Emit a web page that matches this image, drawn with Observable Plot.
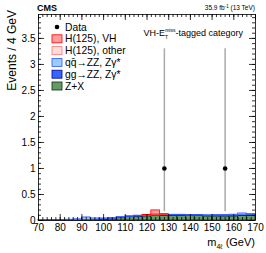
<!DOCTYPE html>
<html><head><meta charset="utf-8">
<script src="https://cdn.jsdelivr.net/npm/d3@7"></script>
<script src="https://cdn.jsdelivr.net/npm/@observablehq/plot@0.6"></script>
<style>body{margin:0;background:#fff;font-family:"Liberation Sans",Arial,sans-serif}</style>
</head><body><div id="chart"></div>
<script>
// bins of 4 GeV, lower edges
const binStart = [70,74,78,82,86,90,94,98,102,106,110,114,118,122,126,130,134,138,142,146,150,154,158,162,166];
const zx    = [0,0,0,0,0,0.005,0.01,0.015,0.025,0.045,0.065,0.075,0.08,0.085,0.09,0.09,0.09,0.085,0.085,0.08,0.08,0.08,0.08,0.085,0.085];
const ggzz  = [0.002,0.002,0.002,0.003,0.003,0.004,0.004,0.005,0.005,0.006,0.006,0.006,0.007,0.007,0.007,0.008,0.008,0.008,0.009,0.009,0.01,0.01,0.012,0.015,0.02];
const qqzz  = [0.005,0.006,0.008,0.012,0.02,0.05,0.025,0.02,0.018,0.015,0.012,0.012,0.012,0.012,0.012,0.012,0.012,0.012,0.013,0.013,0.014,0.015,0.02,0.035,0.02];
const hother= [0,0,0,0,0,0,0,0,0,0,0,0,0.002,0.01,0.003,0,0,0,0,0,0,0,0,0,0];
const hvh   = [0,0,0,0,0,0,0,0,0,0,0,0,0.008,0.08,0.01,0,0,0,0,0,0,0,0,0,0];
const seriesNames = ["Z+X","gg\u2192ZZ, Z\u03b3*","qq\u0304\u2192ZZ, Z\u03b3*","H(125), other","H(125), VH"];
const seriesValues = [zx, ggzz, qqzz, hother, hvh];
const seriesFill = ["#669966","#3366ff","#99ccff","#ffdcdc","#ff9c9c"];
const seriesStroke = ["#003300","#000099","#3355ff","#ff7777","#ff0000"];
// data points
const dataX = [128, 156];
const dataY = [1, 1];
const dataLo = [0.17, 0.17];
const dataHi = [3.30, 3.30];
const xTicks = [70,80,90,100,110,120,130,140,150,160,170];
const yTicks = [0,0.5,1,1.5,2,2.5,3,3.5];

const W = 266, H = 253, mL = 38, mR = 11, mT = 14, mB = 33;
const xDom = [70,170], yDom = [0,3.96];
const pxX = (W-mL-mR)/(xDom[1]-xDom[0]);
const pxY = (H-mT-mB)/(yDom[1]-yDom[0]);

// stacked rects
const rects = [];
binStart.forEach((b,i) => {
  let c = 0;
  seriesValues.forEach((vals,s) => {
    const v = vals[i];
    if (v > 0) rects.push({x1:b, x2:b+4, y1:c, y2:c+v, s});
    c += v;
  });
});
const pts = dataX.map((x,i)=>({x, y:dataY[i], lo:dataLo[i], hi:dataHi[i]}));

const xMinor = d3.range(70,170.01,2);
const yMinor = d3.range(0,3.96,0.1);
const lx = (p)=>p/pxX, ly=(p)=>p/pxY;

const marks = [];
seriesValues.forEach((_,s)=>{
  marks.push(Plot.rect(rects.filter(r=>r.s===s), {x1:"x1",x2:"x2",y1:"y1",y2:"y2",fill:seriesFill[s],stroke:seriesStroke[s],strokeWidth:0.8}));
});
marks.push(
  Plot.ruleX(pts, {x:"x", y1:"lo", y2:"hi", stroke:"#aaaaaa", strokeWidth:1.5}),
  Plot.dot(pts, {x:"x", y:"y", r:2.3, fill:"black"}),
  // inward ticks
  Plot.ruleX(xMinor, {y1:0, y2:ly(3), stroke:"black", strokeWidth:0.8}),
  Plot.ruleX(xTicks, {y1:0, y2:ly(6), stroke:"black", strokeWidth:0.8}),
  Plot.ruleX(xMinor, {y1:yDom[1], y2:yDom[1]-ly(3), stroke:"black", strokeWidth:0.8}),
  Plot.ruleX(xTicks, {y1:yDom[1], y2:yDom[1]-ly(6), stroke:"black", strokeWidth:0.8}),
  Plot.ruleY(yMinor, {x1:70, x2:70+lx(3), stroke:"black", strokeWidth:0.8}),
  Plot.ruleY(yTicks, {x1:70, x2:70+lx(6), stroke:"black", strokeWidth:0.8}),
  Plot.ruleY(yMinor, {x1:170, x2:170-lx(3), stroke:"black", strokeWidth:0.8}),
  Plot.ruleY(yTicks, {x1:170, x2:170-lx(6), stroke:"black", strokeWidth:0.8}),
  Plot.frame({stroke:"black", strokeWidth:0.8}),
  Plot.axisX({ticks:xTicks, tickSize:0, tickPadding:3, fontSize:10, label:null}),
  Plot.axisY({ticks:yTicks, tickSize:0, tickPadding:3, fontSize:10, label:null, tickFormat:d=>String(d)})
);

const plot = Plot.plot({
  width:W, height:H, marginLeft:mL, marginRight:mR, marginTop:mT, marginBottom:mB,
  x:{domain:xDom}, y:{domain:yDom},
  style:{fontFamily:"Liberation Sans, Arial, sans-serif", color:"black", background:"white"},
  marks
});
document.getElementById("chart").appendChild(plot);

const svg = d3.select(plot);
const g = svg.append("g").attr("font-family","Liberation Sans, Arial, sans-serif").attr("fill","black").attr("text-anchor","start");
g.append("text").attr("x",mL-1).attr("y",11).attr("font-size",9).attr("font-weight","bold").text("CMS");
g.append("text").attr("x",W-mR).attr("y",10).attr("font-size",6.5).attr("text-anchor","end")
  .call(t=>{t.append("tspan").text("35.9 fb");t.append("tspan").attr("font-size",4.5).attr("dy",-2.5).text("-1");t.append("tspan").attr("dy",2.5).text(" (13 TeV)");});
// category label
g.append("text").attr("x",243).attr("y",36).attr("font-size",9).attr("text-anchor","end")
  .call(t=>{t.append("tspan").text("VH-E");t.append("tspan").attr("font-size",5).attr("dy",2.5).text("T");
    t.append("tspan").attr("font-size",5).attr("dx",-3).attr("dy",-7).text("miss");t.append("tspan").attr("dy",4.5).text("-tagged category");});
// y title
g.append("text").attr("transform",`translate(15.5,${mT-4}) rotate(-90)`).attr("font-size",12).attr("text-anchor","end").text("Events / 4 GeV");
// x title
g.append("text").attr("x",W-mR).attr("y",246).attr("font-size",11).attr("text-anchor","end")
  .call(t=>{t.append("tspan").text("m");t.append("tspan").attr("font-size",7).attr("dy",3).text("4\u2113");t.append("tspan").attr("dy",-3).text(" (GeV)");});
// legend
const legendY0 = 27, legendDy = 11.8;
g.append("circle").attr("cx",57).attr("cy",legendY0).attr("r",2.3).attr("fill","black");
g.append("text").attr("x",65).attr("y",legendY0+3.5).attr("font-size",10.3).text("Data");
const legOrder = [4,3,2,1,0];
legOrder.forEach((s,i)=>{
  const y = legendY0 + legendDy*(i+1);
  g.append("rect").attr("x",52).attr("y",y-4).attr("width",10).attr("height",8).attr("fill",seriesFill[s]).attr("stroke",seriesStroke[s]).attr("stroke-width",0.8);
  g.append("text").attr("x",65).attr("y",y+3.5).attr("font-size",10.3).text(seriesNames[s]);
});
</script></body></html>
